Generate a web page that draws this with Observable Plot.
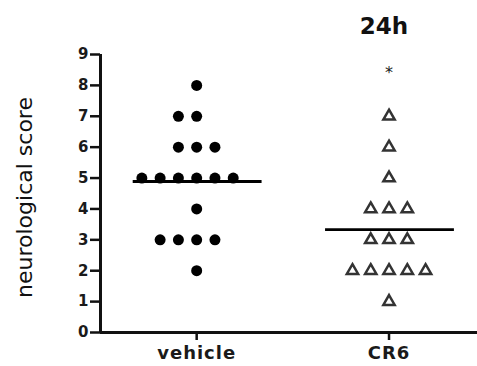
<!DOCTYPE html>
<html>
<head>
<meta charset="utf-8">
<script src="https://cdn.jsdelivr.net/npm/d3@7"></script>
<script src="https://cdn.jsdelivr.net/npm/@observablehq/plot@0.6"></script>
<style>
  html, body { margin: 0; padding: 0; background: #fff; }
  g[aria-label="x-axis tick label"] { letter-spacing: 1px; }
</style>
</head>
<body>
<div id="chart"></div>
<script>
// Neurological score per animal at 24h, by treatment group
const groups = ["vehicle", "CR6"];
const vehicleScores = [8, 7, 7, 6, 6, 6, 5, 5, 5, 5, 5, 5, 4, 3, 3, 3, 3, 2];
const cr6Scores = [7, 6, 5, 4, 4, 4, 3, 3, 3, 2, 2, 2, 2, 2, 1];
const yTicks = [0, 1, 2, 3, 4, 5, 6, 7, 8, 9];
const title = "24h";
const significance = [{group: "CR6", label: "*", score: 8.5}];

// Spread tied scores sideways into a centred row of columns
const colStep = 0.095;
function scatterRows(scores, gi) {
  const counts = d3.rollup(scores, v => v.length, d => d);
  const seen = new Map();
  return scores.map(s => {
    const k = seen.get(s) || 0;
    seen.set(s, k + 1);
    const n = counts.get(s);
    return {score: s, x: gi + (k - Math.floor(n / 2)) * colStep};
  });
}
const vehiclePts = scatterRows(vehicleScores, 0);
const cr6Pts = scatterRows(cr6Scores, 1);
const means = [
  {i: 0, mean: d3.mean(vehicleScores)},
  {i: 1, mean: d3.mean(cr6Scores)}
];

const font = "DejaVu Sans";
const chart = Plot.plot({
  width: 477,
  height: 366,
  marginTop: 54,
  marginBottom: 34,
  marginLeft: 100,
  marginRight: 0,
  style: {fontFamily: font, background: "white", color: "#111"},
  x: {domain: [-0.5, 1.46], axis: null},
  y: {domain: [0, 9], axis: null},
  marks: [
    Plot.axisY({
      ticks: yTicks, tickSize: 10, tickPadding: 2, strokeWidth: 2.5,
      fontSize: 15, fontWeight: "bold", fontFamily: font, fill: "#1a1a1a", label: null
    }),
    Plot.axisX({
      ticks: [0, 1], tickFormat: i => groups[i], tickSize: 8, tickPadding: 6,
      strokeWidth: 2.5, fontSize: 18, fontWeight: "bold", fontFamily: font, fill: "#1a1a1a", label: null
    }),
    Plot.ruleX([-0.5], {strokeWidth: 3}),
    Plot.ruleY([0], {strokeWidth: 3, x1: -0.5, x2: 1.46}),
    Plot.dot(vehiclePts, {x: "x", y: "score", r: 5.5, fill: "#000", symbol: "circle"}),
    Plot.dot(cr6Pts, {x: "x", y: "score", r: 4.2, symbol: "triangle", fill: "#fff", stroke: "#333", strokeWidth: 2.5}),
    Plot.ruleY(means, {y: "mean", x1: d => d.i - 0.33, x2: d => d.i + 0.34, strokeWidth: 2.8, stroke: "#000"}),
    Plot.text(significance, {x: d => groups.indexOf(d.group), y: "score", text: "label", fontSize: 16, dy: 3, fill: "#222"}),
    Plot.text([title], {x: 1, frameAnchor: "top", text: d => d, lineAnchor: "bottom", dy: -21, dx: -5, fontSize: 23, fontWeight: "bold", fill: "#111"}),
    Plot.text(["neurological score"], {frameAnchor: "left", text: d => d, textAnchor: "middle", rotate: -90, dx: -75.5, dy: 4, fontSize: 22, fill: "#111"})
  ]
});
document.getElementById("chart").appendChild(chart);
</script>
</body>
</html>
